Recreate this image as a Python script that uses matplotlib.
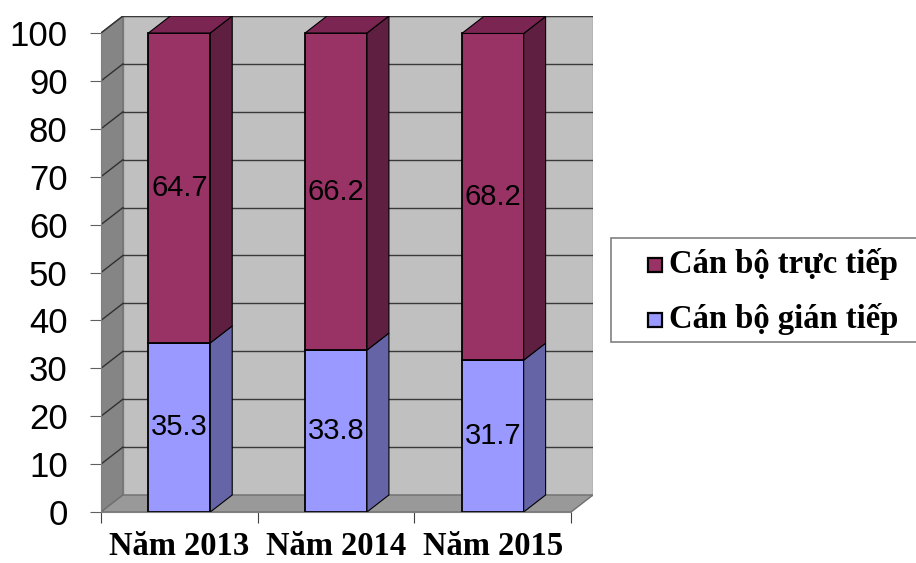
"""
Biểu đồ cột chồng kiểu 3D: cơ cấu cán bộ trực tiếp / gián tiếp (%), 2013-2015.
Vẽ lại bằng matplotlib, lưu ra out.png.
"""

import matplotlib
matplotlib.use("Agg")
import matplotlib.pyplot as plt
from matplotlib.patches import Polygon, Rectangle

# dữ liệu
years = ["Năm 2013", "Năm 2014", "Năm 2015"]
gian_tiep = [35.3, 33.8, 31.7]
truc_tiep = [64.7, 66.2, 68.2]
yticks = list(range(0, 101, 10))
series_names = ["Cán bộ trực tiếp", "Cán bộ gián tiếp"]
series_colors = ["#993366", "#9999FF"]

# độ sâu giả 3D (đơn vị dữ liệu)
DX = 0.14
DY = 3.55
BAR_W = 0.395

SANS = ["Liberation Sans Narrow", "Liberation Sans", "DejaVu Sans"]
SERIF = ["Liberation Serif", "DejaVu Serif"]

W, H = 916, 563
fig = plt.figure(figsize=(W / 100, H / 100), dpi=100)
ax = fig.add_axes([101 / W, 51 / H, 492 / W, 496 / H])
n = len(years)
ax.set_xlim(0, n + DX)
ax.set_ylim(0, 100 + DY)

# tường sau, tường bên, sàn
ax.add_patch(Polygon([(DX, DY), (n + DX, DY), (n + DX, 100 + DY), (DX, 100 + DY)],
                     closed=True, facecolor="#C0C0C0", edgecolor="#8A8A8A", lw=1, zorder=1))
ax.add_patch(Polygon([(0, 0), (DX, DY), (DX, 100 + DY), (0, 100)],
                     closed=True, facecolor="#858585", edgecolor="#707070", lw=1, zorder=1))
ax.add_patch(Polygon([(0, 0), (n, 0), (n + DX, DY), (DX, DY)],
                     closed=True, facecolor="#999999", edgecolor="#707070", lw=1, zorder=1))

# lưới
for v in yticks[1:]:
    ax.plot([DX, n + DX], [v + DY, v + DY], color="#3A3A3A", lw=1, zorder=2)
    ax.plot([0, DX], [v, v + DY], color="#303030", lw=1, zorder=2)

x = [i + 0.5 for i in range(n)]
ax.bar(x, gian_tiep, width=BAR_W, color=series_colors[1], edgecolor="black", lw=1.3, zorder=3)
ax.bar(x, truc_tiep, bottom=gian_tiep, width=BAR_W, color=series_colors[0],
       edgecolor="black", lw=1.3, zorder=3)

for xi, lo, hi in zip(x, gian_tiep, truc_tiep):
    xr = xi + BAR_W / 2
    xl = xi - BAR_W / 2
    top = lo + hi
    ax.add_patch(Polygon([(xr, 0), (xr + DX, DY), (xr + DX, lo + DY), (xr, lo)],
                         closed=True, facecolor="#6464A6", edgecolor="black", lw=0.8, zorder=3))
    ax.add_patch(Polygon([(xr, lo), (xr + DX, lo + DY), (xr + DX, top + DY), (xr, top)],
                         closed=True, facecolor="#5F1F40", edgecolor="black", lw=0.8, zorder=3))
    ax.add_patch(Polygon([(xl, top), (xl + DX, top + DY), (xr + DX, top + DY), (xr, top)],
                         closed=True, facecolor="#7A2552", edgecolor="black", lw=0.8, zorder=3))
    ax.text(xi, lo / 2, f"{lo:.1f}", ha="center", va="center", fontsize=21,
            family=SANS, zorder=4)
    ax.text(xi, lo + hi / 2, f"{hi:.1f}", ha="center", va="center", fontsize=21,
            family=SANS, zorder=4)

for s in ["top", "right"]:
    ax.spines[s].set_visible(False)
ax.spines["left"].set_bounds(0, 100)
ax.spines["bottom"].set_bounds(0, n)
ax.spines["left"].set_color("#808080")
ax.spines["bottom"].set_color("#808080")
ax.spines["left"].set_zorder(5)
ax.spines["bottom"].set_zorder(5)

ax.set_yticks(yticks)
ax.set_yticklabels([str(v) for v in yticks], family=SANS, fontsize=25)
ax.tick_params(axis="y", length=8, color="#606060", pad=16)

ax.set_xticks(range(n + 1))
ax.set_xticklabels([])
ax.set_xticks(x, minor=True)
ax.set_xticklabels(years, minor=True, family=SERIF, fontweight="bold", fontsize=23.5)
ax.tick_params(axis="x", which="major", length=8, color="#404040")
ax.tick_params(axis="x", which="minor", length=0, pad=14)

# chú thích vẽ tay (toạ độ pixel của hình)
fig.patches.append(Rectangle((611 / W, 1 - 342 / H), 320 / W, 104 / H,
                             transform=fig.transFigure, facecolor="white",
                             edgecolor="#808080", lw=1.2))
for k, (name, col) in enumerate(zip(series_names, series_colors)):
    cy = 264.5 + k * 54.5
    fig.patches.append(Rectangle((648 / W, 1 - (cy + 7.5) / H), 14 / W, 14 / H,
                                 transform=fig.transFigure, facecolor=col,
                                 edgecolor="black", lw=1.6))
    fig.text(669 / W, 1 - cy / H, name, ha="left", va="center", family=SERIF,
             fontweight="bold", fontsize=23.5)

fig.savefig("out.png", dpi=100)
